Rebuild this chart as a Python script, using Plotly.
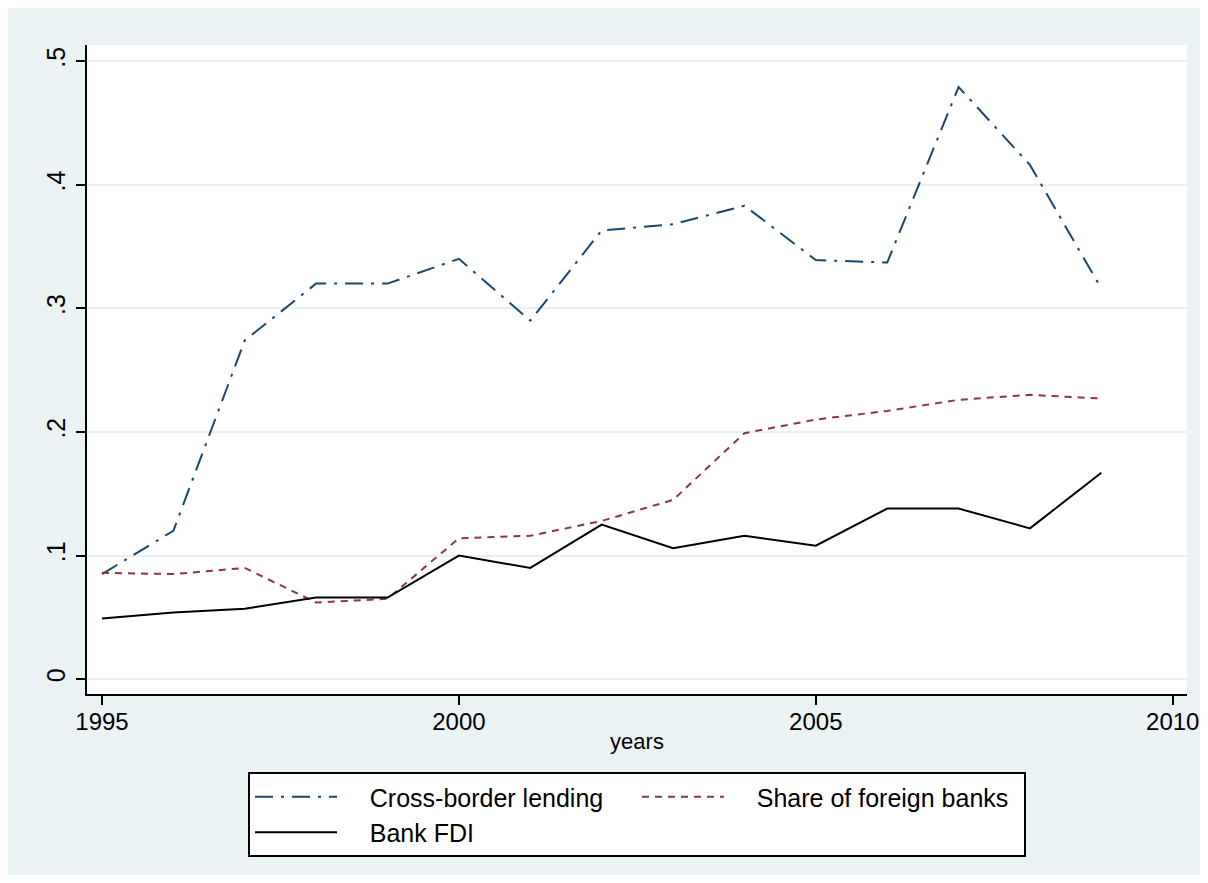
import plotly.graph_objects as go

years = [1995, 1996, 1997, 1998, 1999, 2000, 2001, 2002, 2003, 2004, 2005, 2006, 2007, 2008, 2009]
cross_border = [0.085, 0.120, 0.274, 0.320, 0.320, 0.340, 0.290, 0.363, 0.368, 0.383, 0.339, 0.337, 0.479, 0.416, 0.316]
share_foreign = [0.086, 0.085, 0.090, 0.062, 0.065, 0.114, 0.116, 0.128, 0.145, 0.199, 0.210, 0.217, 0.226, 0.230, 0.227]
bank_fdi = [0.049, 0.054, 0.057, 0.066, 0.066, 0.100, 0.090, 0.125, 0.106, 0.116, 0.108, 0.138, 0.138, 0.122, 0.167]

x_ticks = [1995, 2000, 2005, 2010]
y_ticks = [0, 0.1, 0.2, 0.3, 0.4, 0.5]
y_tick_labels = ["0", ".1", ".2", ".3", ".4", ".5"]

FONT = "Liberation Sans, Arial, sans-serif"
BG = "#eaf2f3"
NB = "\u00a0"

fig = go.Figure()
fig.add_trace(go.Scatter(x=years, y=cross_border, mode="lines", name=NB * 4 + "Cross-border lending",
                         line=dict(color="#1a476f", width=2, dash="18px,8px,3px,8px")))
fig.add_trace(go.Scatter(x=years, y=share_foreign, mode="lines", name=NB * 4 + "Share of foreign banks",
                         line=dict(color="#90353b", width=2, dash="7px,6px")))
fig.add_trace(go.Scatter(x=years, y=bank_fdi, mode="lines", name=NB * 4 + "Bank FDI",
                         line=dict(color="#000000", width=2)))

# page body has an 8px margin, so the figure starts at (8, 8); keep it inside the window
W, H = 1192, 867
L, R, T, B = 79, 13, 37, 181
pw, ph = W - L - R, H - T - B

# thin white strip at the very top (reference background starts a bit lower)
fig.add_shape(type="rect", xref="paper", yref="paper", layer="below",
              x0=-L / pw - 0.01, x1=(W - L) / pw + 0.01, y0=(H - T - 4) / ph, y1=(H - T) / ph + 0.01,
              fillcolor="white", line_width=0)

fig.update_layout(
    width=W, height=H,
    margin=dict(l=L, r=R, t=T, b=B, pad=0, autoexpand=False),
    paper_bgcolor=BG, plot_bgcolor="white",
    font=dict(family=FONT, size=24, color="#000000"),
    showlegend=True,
    legend=dict(orientation="h", x=0.5, xanchor="center", y=(686 - 764) / ph, yanchor="top",
                bgcolor="white", bordercolor="#000000", borderwidth=2,
                itemwidth=82, entrywidth=290, font=dict(family=FONT, size=25),
                traceorder="normal"),
    xaxis=dict(range=[1994.79, 2010.2], tickvals=x_ticks, ticks="outside", ticklen=9, tickwidth=2,
               tickcolor="#000000", showline=True, linecolor="#000000", linewidth=2,
               showgrid=False, zeroline=False, ticklabelstandoff=-4, automargin=False,
               title=dict(text="years", font=dict(family=FONT, size=22), standoff=0),
               tickfont=dict(family=FONT, size=24)),
    yaxis=dict(range=[-0.012, 0.513], tickvals=y_ticks, ticktext=y_tick_labels, ticks="outside",
               ticklen=9, tickwidth=2, tickcolor="#000000", showline=True, linecolor="#000000",
               linewidth=2, showgrid=True, gridcolor="#e8f0f2", gridwidth=2, zeroline=False,
               automargin=False,
               tickangle=-90, ticklabelstandoff=1, tickfont=dict(family=FONT, size=25)),
)

fig.write_html("out.html")
